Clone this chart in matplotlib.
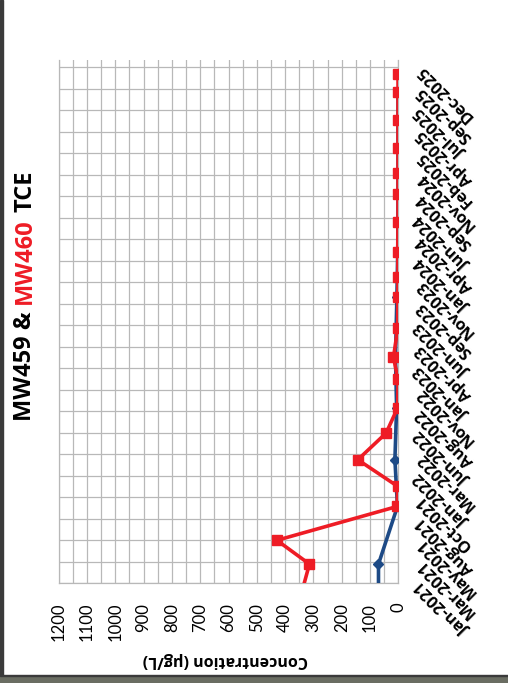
import numpy as np
import pandas as pd
import matplotlib
matplotlib.use("Agg")
import matplotlib.pyplot as plt
import matplotlib.dates as mdates
from matplotlib.ticker import MultipleLocator
from matplotlib.patches import Rectangle

plt.rcParams['font.family'] = ['Lato', 'DejaVu Sans']
bold_family = ['Open Sans', 'DejaVu Sans']

# MW460 (red) - first point lies before the axis start and is clipped
mw460_dates = ["2020-12-05", "2021-03-09", "2021-05-31", "2021-09-26", "2021-12-05",
               "2022-03-08", "2022-06-09", "2022-09-06", "2022-12-13", "2023-02-28",
               "2023-06-10", "2023-09-25", "2023-12-06", "2024-03-03", "2024-06-13",
               "2024-09-20", "2024-12-03", "2025-02-27", "2025-06-04", "2025-09-12",
               "2025-11-12"]
mw460_tce = [340, 314, 429, 4, 2,
             143, 43, 2, 1, 17,
             2, 2, 1, 2, 1,
             1, 1, 1, 1, 1,
             1]

# MW459 (blue)
mw459_dates = ["2020-09-10", "2021-03-09", "2021-09-26", "2022-03-08", "2022-09-06",
               "2023-02-28", "2023-09-25", "2024-03-03", "2024-09-20", "2025-02-27",
               "2025-09-12"]
mw459_tce = [70, 70, 3, 12, 6,
             10, 5, 2, 1, 1,
             1]

date_min = "2021-01-01"
date_max = "2025-12-31"
date_step = 75  # days between date ticks
conc_ticks = [0, 100, 200, 300, 400, 500, 600, 700, 800, 900, 1000, 1100, 1200]

red = '#ee1c25'
blue = '#1d4a86'
grid_c = '#b8b8b8'

W, H = 508, 683
fig = plt.figure(figsize=(W / 100, H / 100), dpi=100)
fig.patch.set_facecolor('white')

# screenshot edges
fig.patches.append(Rectangle((0, 0), 3 / W, 1, transform=fig.transFigure, color='#3a3a3a', zorder=0))
fig.patches.append(Rectangle((0, 0), 1, 7 / H, transform=fig.transFigure, color='#6a6d62', zorder=0))
fig.patches.append(Rectangle((0, 7 / H), 1, 1.5 / H, transform=fig.transFigure, color='#3a3a3a', zorder=0))

left, right, top, bottom = 58.7, 398.3, 60, 583.3
ax = fig.add_axes([left / W, 1 - bottom / H, (right - left) / W, (bottom - top) / H])

d460 = pd.to_datetime(mw460_dates)
d459 = pd.to_datetime(mw459_dates)

ax.plot(mw459_tce, d459, color=blue, lw=2.6, marker='D', ms=5.5, zorder=3)
ax.plot(mw460_tce, d460, color=red, lw=2.6, marker='s', ms=6.5, zorder=4)

ax.set_xlim(1200, 0)
ax.set_ylim(pd.Timestamp(date_min), pd.Timestamp(date_max))

ax.xaxis.set_major_locator(MultipleLocator(100))
ax.xaxis.set_minor_locator(MultipleLocator(50))
ax.set_xticks(conc_ticks)
ax.set_xticklabels([str(v) for v in conc_ticks])

ticks = pd.date_range(date_min, date_max, freq=f"{date_step}D")
ax.set_yticks(mdates.date2num(ticks))
ax.set_yticklabels([t.strftime('%b-%Y') for t in ticks])
ax.yaxis.tick_right()

ax.grid(True, which='both', color=grid_c, lw=0.9)
ax.set_axisbelow(True)
ax.tick_params(which='both', length=0)
ax.tick_params(axis='x', labelrotation=90, labelsize=12, pad=14)
ax.tick_params(axis='y', pad=15)
for lab in ax.get_yticklabels():
    lab.set_rotation(135)
    lab.set_rotation_mode('anchor')
    lab.set_ha('right')
    lab.set_va('center')
    lab.set_family(bold_family)
    lab.set_fontsize(11.8)
    lab.set_fontweight('bold')

ax.spines['top'].set_visible(False)
for s in ['left', 'bottom', 'right']:
    ax.spines[s].set_color(grid_c)
    ax.spines[s].set_linewidth(0.9)

# axis title (upside down because the whole chart is turned)
fig.text(225 / W, 1 - 660 / H, 'Concentration (µg/L)', rotation=180, ha='center', va='center',
         fontsize=11.5, fontweight='bold', family=bold_family)

# multi-colour title, reading bottom to top
fig.canvas.draw()
rend = fig.canvas.get_renderer()
pieces = [('MW459 &', 'black'), ('MW460', red), ('TCE', 'black')]
y_px = H - 421
x_fig = 25 / W
for txt, col in pieces:
    t = fig.text(x_fig, y_px / H, txt, rotation=90, ha='center', va='bottom',
                 fontsize=17, fontweight='bold', color=col, family=bold_family)
    bb = t.get_window_extent(rend)
    y_px = bb.y1 + 7

fig.savefig('out.png', dpi=100)
